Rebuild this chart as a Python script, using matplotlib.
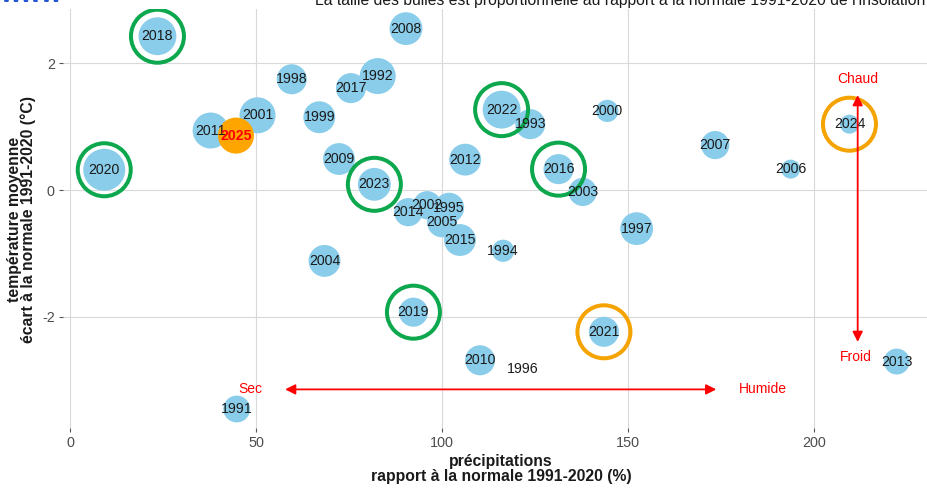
import numpy as np
import matplotlib
matplotlib.use("Agg")
import matplotlib.pyplot as plt

plt.rcParams['font.family'] = ['Liberation Sans', 'DejaVu Sans']

years = [1991, 1992, 1993, 1994, 1995, 1996, 1997, 1998, 1999, 2000,
         2001, 2002, 2003, 2004, 2005, 2006, 2007, 2008, 2009, 2010,
         2011, 2012, 2013, 2014, 2015, 2016, 2017, 2018, 2019, 2020,
         2021, 2022, 2023, 2024, 2025]
precip = [44.8, 82.7, 123.7, 116.4, 101.9, 121.7, 152.3, 59.6, 67.0, 144.4,
          50.4, 96.0, 137.8, 68.4, 100.0, 193.7, 173.4, 90.3, 72.3, 110.2,
          37.8, 106.2, 222.2, 90.9, 104.8, 131.3, 75.5, 23.5, 92.3, 9.2,
          143.5, 116.0, 81.8, 209.5, 44.6]
temp = [-3.46, 1.80, 1.04, -0.96, -0.28, -2.83, -0.61, 1.75, 1.15, 1.25,
        1.18, -0.24, -0.03, -1.12, -0.51, 0.33, 0.71, 2.55, 0.49, -2.69,
        0.94, 0.48, -2.71, -0.35, -0.79, 0.33, 1.61, 2.43, -1.93, 0.32,
        -2.24, 1.27, 0.09, 1.04, 0.86]
insolation = [97, 117, 104, 87, 104, np.nan, 110, 104, 108, 87,
              117, 100, 100, 108, 104, 80, 100, 110, 108, 104,
              117, 108, 95, 100, 108, 104, 104, 121, 102, 130,
              104, 121, 110, 80, 117]

green_rings = [2018, 2020, 2022, 2023, 2016, 2019]
orange_rings = [2024, 2021]
current_year = 2025

x_ticks = [0, 50, 100, 150, 200]
y_ticks = [-2, 0, 2]

W, H = 928, 490
fig = plt.figure(figsize=(W / 100, H / 100), dpi=100)
ax = fig.add_axes([62.5 / W, 62 / H, (W - 62.5) / W, (428 - 9) / H])
ax.set_xlim(-2.02, 230.6)
ax.set_ylim(-3.76, 2.86)

for s in ax.spines.values():
    s.set_visible(False)
ax.set_xticks(x_ticks)
ax.set_yticks(y_ticks)
ax.set_yticklabels([str(v) for v in y_ticks])
ax.grid(True, color='#d9d9d9', lw=0.8)
ax.set_axisbelow(True)
ax.tick_params(length=3, width=0.8, color='#555555', labelcolor='#4d4d4d',
               labelsize=10.4, pad=2.5)

px2pt = 72 / 100


def radius_px(v):
    return 9.5 + (v - 80) * 0.23


pr = np.array(precip)
tp = np.array(temp)
ins = np.array(insolation, dtype=float)
yr = np.array(years)

mask = (~np.isnan(ins)) & (yr != current_year)
sizes = (2 * radius_px(ins[mask]) * px2pt) ** 2
ax.scatter(pr[mask], tp[mask], s=sizes, color='#8ACDEA', edgecolors='none', zorder=3)
cm = yr == current_year
ax.scatter(pr[cm], tp[cm], s=(2 * radius_px(ins[cm]) * px2pt) ** 2,
           color='#FFA500', edgecolors='none', zorder=4)

ring_s = (2 * 26.5 * px2pt) ** 2
for ylist, col in ((green_rings, '#0DA84E'), (orange_rings, '#F5A300')):
    idx = [years.index(y) for y in ylist]
    ax.scatter(pr[idx], tp[idx], s=ring_s, facecolors='none', edgecolors=col,
               linewidths=4 * px2pt, zorder=5)

for y, xv, tv in zip(years, precip, temp):
    if y == current_year:
        ax.text(xv, tv, str(y), ha='center', va='center', fontsize=10.2,
                color='#FF0000', fontweight='bold', zorder=7)
    else:
        ax.text(xv, tv, str(y), ha='center', va='center', fontsize=10.2,
                color='#1a1a1a', zorder=6)

# arrows
arrow_kw = dict(arrowstyle='<|-|>', color='#FF0000', lw=1.3, mutation_scale=15,
                shrinkA=0, shrinkB=0)
ax.annotate('', xy=(57.8, -3.15), xytext=(173.7, -3.15), arrowprops=arrow_kw, zorder=6)
ax.annotate('', xy=(211.7, 1.50), xytext=(211.7, -2.40), arrowprops=arrow_kw, zorder=6)
red_kw = dict(ha='center', va='center', fontsize=10, color='#FF0000', zorder=7)
ax.text(48.4, -3.15, 'Sec', **red_kw)
ax.text(186.3, -3.15, 'Humide', **red_kw)
ax.text(211.6, 1.75, 'Chaud', **red_kw)
ax.text(211.3, -2.64, 'Froid', **red_kw)

# axis titles
fig.text(501 / W, (H - 469) / H, 'précipitations\nrapport à la normale 1991-2020 (%)',
         ha='center', va='center', fontsize=11.3, fontweight='bold',
         color='#1a1a1a', linespacing=0.95)
fig.text(21.5 / W, (H - 219) / H, 'température moyenne\nécart à la normale 1991-2020 (°C)',
         ha='center', va='center', rotation=90, fontsize=11.3, fontweight='bold',
         color='#1a1a1a', linespacing=0.95)

# cropped title and logo at the top
fig.text(925 / W, (H - 5) / H,
         "La taille des bulles est proportionnelle au rapport à la normale 1991-2020 de l'insolation",
         ha='right', va='baseline', fontsize=11.3, color='#1a1a1a')
fig.text(0 / W, (H - 2.5) / H, 'www', ha='left', va='baseline', fontsize=19,
         fontweight='bold', color='#2456d6')

fig.savefig('out.png', dpi=100)
